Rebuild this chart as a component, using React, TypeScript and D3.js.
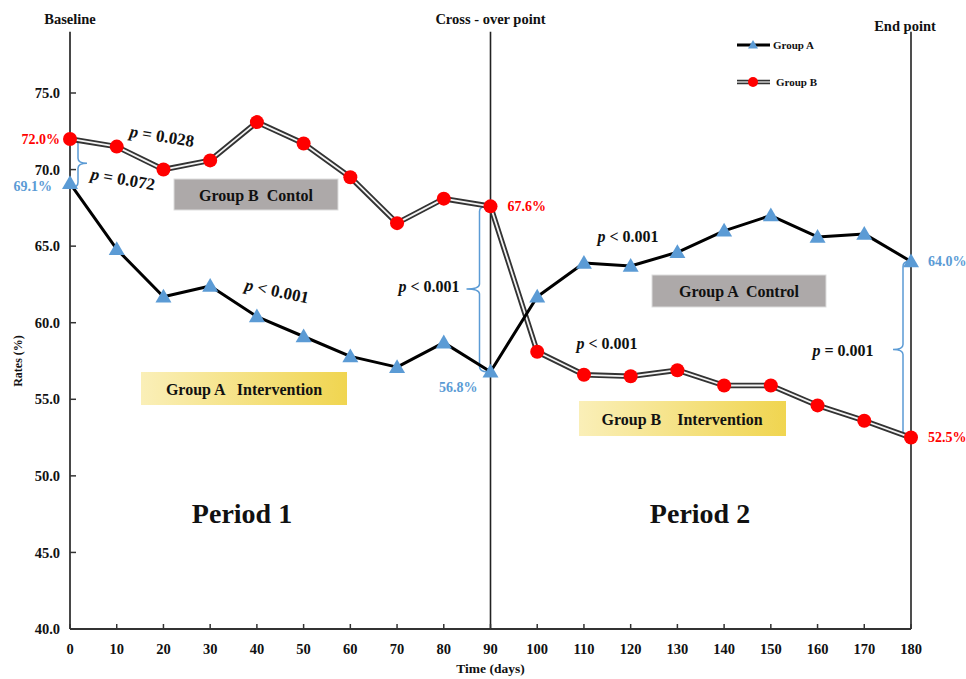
import React from "react";
import * as d3 from "d3";

const days = [0, 10, 20, 30, 40, 50, 60, 70, 80, 90, 100, 110, 120, 130, 140, 150, 160, 170, 180];
const groupA = [69.1, 64.8, 61.7, 62.4, 60.4, 59.1, 57.8, 57.1, 58.7, 56.8, 61.7, 63.9, 63.7, 64.6, 66.0, 67.0, 65.6, 65.8, 64.0];
const groupB = [72.0, 71.5, 70.0, 70.6, 73.1, 71.7, 69.5, 66.5, 68.1, 67.6, 58.1, 56.6, 56.5, 56.9, 55.9, 55.9, 54.6, 53.6, 52.5];
const yTicks = [40, 45, 50, 55, 60, 65, 70, 75];
const markers = [
  { day: 0, label: "Baseline" },
  { day: 90, label: "Cross - over point" },
  { day: 180, label: "End point" },
];

const W = 966;
const H = 679;
const FONT = "'Liberation Serif', 'Times New Roman', serif";
const BLUE = "#5B9BD5";
const RED = "#FF0000";

export default function App() {
  const x = d3.scaleLinear().domain([0, 180]).range([70, 911]);
  const y = d3.scaleLinear().domain([40, 75]).range([629, 93]);
  const yTop = y(79);

  const lineA = d3.line<number>().x((_, i) => x(days[i])).y((d) => y(d));
  const pathA = lineA(groupA) || "";
  const pathB = lineA(groupB) || "";

  const tri = (cx: number, cy: number, s = 8) =>
    `M${cx},${cy - s}L${cx + s},${cy + s * 0.72}L${cx - s},${cy + s * 0.72}Z`;

  const brace = (bx: number, y1: number, y2: number, dir: number, nub: number, end: number) => {
    const ym = (y1 + y2) / 2;
    const r = 5;
    return `M${bx - dir * end},${y1} Q${bx},${y1} ${bx},${y1 + r} L${bx},${ym - r} Q${bx},${ym} ${bx + dir * nub},${ym} Q${bx},${ym} ${bx},${ym + r} L${bx},${y2 - r} Q${bx},${y2} ${bx - dir * end},${y2}`;
  };

  const pText = (op: string, val: string) => (
    <>
      <tspan fontStyle="italic">p</tspan>
      <tspan>{` ${op} ${val}`}</tspan>
    </>
  );

  return (
    <svg width={W} height={H} style={{ position: "absolute", left: 0, top: 0, background: "#fff" }} fontFamily={FONT}>
      <defs>
        <linearGradient id="yel" x1="0" x2="1" y1="0" y2="0">
          <stop offset="0" stopColor="#FAEFB8" />
          <stop offset="1" stopColor="#F0D550" />
        </linearGradient>
      </defs>

      <line x1={x(0)} x2={x(0)} y1={yTop} y2={y(40)} stroke="#333" strokeWidth={1.8} />
      <line x1={x(0)} x2={x(180)} y1={y(40)} y2={y(40)} stroke="#333" strokeWidth={1.8} />
      {markers.slice(1).map((m) => (
        <line key={m.day} x1={x(m.day)} x2={x(m.day)} y1={yTop} y2={y(40)} stroke="#222" strokeWidth={1.6} />
      ))}
      {yTicks.map((t) => (
        <g key={t}>
          <line x1={x(0)} x2={x(0) + 6} y1={y(t)} y2={y(t)} stroke="#333" strokeWidth={1.5} />
          <text x={x(0) - 10} y={y(t)} dy="0.35em" textAnchor="end" fontSize={14.5} fontWeight="bold" fill="#111">
            {t.toFixed(1)}
          </text>
        </g>
      ))}
      {days.map((d) => (
        <g key={d}>
          <line x1={x(d)} x2={x(d)} y1={y(40)} y2={y(40) - 5} stroke="#333" strokeWidth={1.5} />
          <text x={x(d)} y={y(40) + 20} dy="0.35em" textAnchor="middle" fontSize={14.5} fontWeight="bold" fill="#111">
            {d}
          </text>
        </g>
      ))}
      <text x={x(90)} y={673} textAnchor="middle" fontSize={13.5} fontWeight="bold" fill="#111">Time (days)</text>
      <text transform={`translate(22,${y(57.5)}) rotate(-90)`} textAnchor="middle" fontSize={12} fontWeight="bold" fill="#111">Rates (%)</text>

      {markers.map((m, i) => (
        <text key={m.day} x={x(m.day) - (i === 2 ? 6 : 0)} y={i === 2 ? 31 : 24} textAnchor="middle" fontSize={14.5} fontWeight="bold" fill="#111">
          {m.label}
        </text>
      ))}

      <rect x={174} y={179} width={164} height={31} fill="#ADA9A9" stroke="#ddd" />
      <text x={256} y={195} dy="0.35em" textAnchor="middle" fontSize={16} fontWeight="bold" fill="#111" style={{ whiteSpace: "pre" }}>{"Group B  Contol"}</text>
      <rect x={652} y={275} width={174} height={32} fill="#ADA9A9" stroke="#ddd" />
      <text x={739} y={291} dy="0.35em" textAnchor="middle" fontSize={16} fontWeight="bold" fill="#111" style={{ whiteSpace: "pre" }}>{"Group A  Control"}</text>
      <rect x={141} y={372} width={206} height={33} fill="url(#yel)" />
      <text x={244} y={389} dy="0.35em" textAnchor="middle" fontSize={16} fontWeight="bold" fill="#111" style={{ whiteSpace: "pre" }}>{"Group A   Intervention"}</text>
      <rect x={579} y={401} width={207} height={35} fill="url(#yel)" />
      <text x={682} y={419} dy="0.35em" textAnchor="middle" fontSize={16} fontWeight="bold" fill="#111" style={{ whiteSpace: "pre" }}>{"Group B    Intervention"}</text>

      <text x={242} y={513} dy="0.35em" textAnchor="middle" fontSize={28} fontWeight="bold" fill="#111">Period 1</text>
      <text x={700} y={513} dy="0.35em" textAnchor="middle" fontSize={28} fontWeight="bold" fill="#111">Period 2</text>

      <path d={brace(x(0) + 8, y(72.0), y(69.1) + 4, 1, 9, 6)} fill="none" stroke={BLUE} strokeWidth={1.5} />
      <path d={brace(x(90) - 11, y(67.6), y(56.8), -1, 13, 8)} fill="none" stroke={BLUE} strokeWidth={1.5} />
      <path d={brace(x(180) - 8, y(64.0), y(52.5), -1, 10, 6)} fill="none" stroke={BLUE} strokeWidth={1.5} />

      <path d={pathB} fill="none" stroke="#333" strokeWidth={5.5} strokeLinejoin="round" />
      <path d={pathB} fill="none" stroke="#f4f4f4" strokeWidth={1.8} strokeLinejoin="round" />
      <path d={pathA} fill="none" stroke="#000" strokeWidth={3} strokeLinejoin="round" />

      {groupB.map((v, i) => (
        <circle key={"b" + i} cx={x(days[i])} cy={y(v)} r={7} fill={RED} />
      ))}
      {groupA.map((v, i) => (
        <path key={"a" + i} d={tri(x(days[i]), y(v))} fill={BLUE} />
      ))}

      <text x={x(0) - 10} y={y(72.0)} dy="0.35em" textAnchor="end" fontSize={14} fontWeight="bold" fill={RED}>72.0%</text>
      <text x={x(0) - 18} y={y(69.1) + 3} dy="0.35em" textAnchor="end" fontSize={14} fontWeight="bold" fill={BLUE}>69.1%</text>
      <text x={x(90) + 17} y={y(67.6)} dy="0.35em" fontSize={14} fontWeight="bold" fill={RED}>67.6%</text>
      <text x={x(90) - 13} y={y(56.8) + 15} dy="0.35em" textAnchor="end" fontSize={14} fontWeight="bold" fill={BLUE}>56.8%</text>
      <text x={x(180) + 17} y={y(64.0)} dy="0.35em" fontSize={14} fontWeight="bold" fill={BLUE}>64.0%</text>
      <text x={x(180) + 17} y={y(52.5)} dy="0.35em" fontSize={14} fontWeight="bold" fill={RED}>52.5%</text>

      <text transform="translate(162,136) rotate(9)" textAnchor="middle" dy="0.35em" fontSize={17} fontWeight="bold" fill="#111">{pText("=", "0.028")}</text>
      <text transform="translate(123,179) rotate(10)" textAnchor="middle" dy="0.35em" fontSize={17} fontWeight="bold" fill="#111">{pText("=", "0.072")}</text>
      <text transform="translate(277,291) rotate(12)" textAnchor="middle" dy="0.35em" fontSize={17} fontWeight="bold" fill="#111">{pText("<", "0.001")}</text>
      <text x={429} y={286} dy="0.35em" textAnchor="middle" fontSize={16} fontWeight="bold" fill="#111">{pText("<", "0.001")}</text>
      <text x={628} y={236} dy="0.35em" textAnchor="middle" fontSize={16} fontWeight="bold" fill="#111">{pText("<", "0.001")}</text>
      <text x={607} y={343} dy="0.35em" textAnchor="middle" fontSize={16} fontWeight="bold" fill="#111">{pText("<", "0.001")}</text>
      <text x={843} y={350} dy="0.35em" textAnchor="middle" fontSize={16} fontWeight="bold" fill="#111">{pText("=", "0.001")}</text>

      <g>
        <line x1={737} x2={770} y1={45} y2={45} stroke="#000" strokeWidth={3} />
        <path d={tri(753, 45, 5)} fill={BLUE} />
        <text x={773} y={45} dy="0.35em" fontSize={11} fontWeight="bold" fill="#111">Group A</text>
        <line x1={737} x2={770} y1={82} y2={82} stroke="#333" strokeWidth={4.5} />
        <line x1={737} x2={770} y1={82} y2={82} stroke="#ccc" strokeWidth={1.5} />
        <circle cx={753} cy={82} r={5} fill={RED} />
        <text x={776} y={82} dy="0.35em" fontSize={11} fontWeight="bold" fill="#111">Group B</text>
      </g>
    </svg>
  );
}
